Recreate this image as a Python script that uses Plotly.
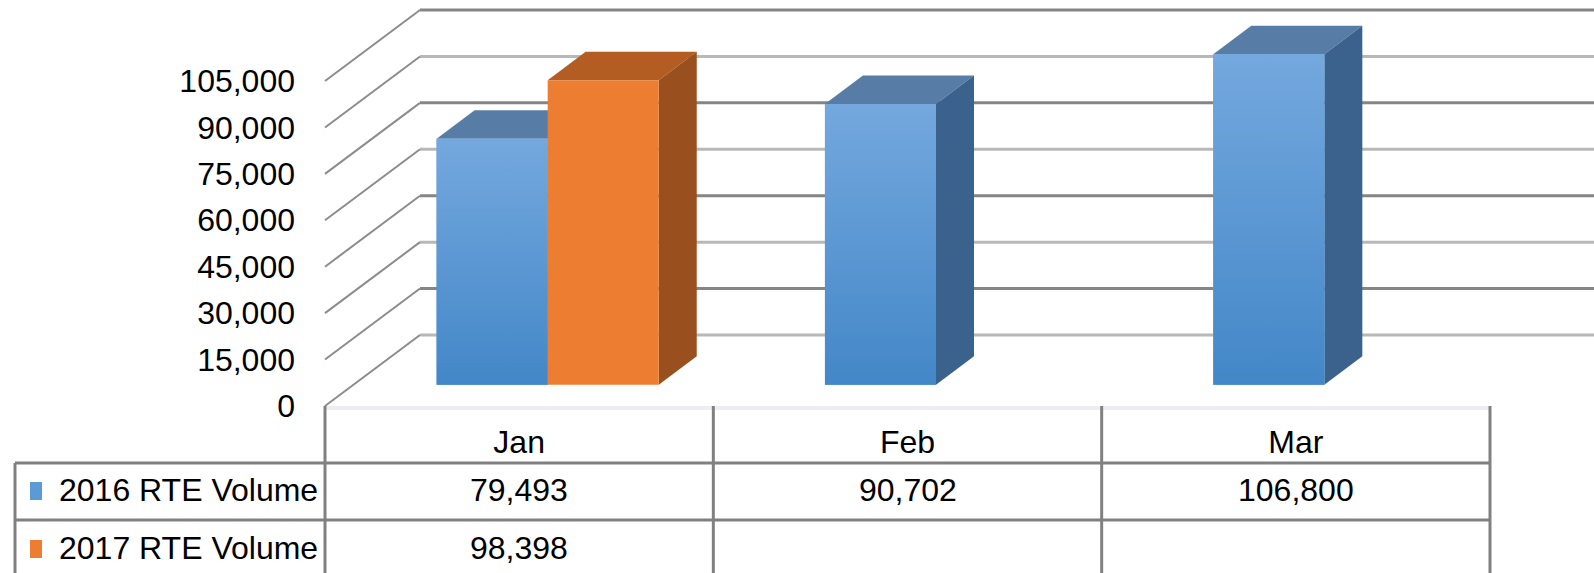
import plotly.graph_objects as go

# ---------------- data ----------------
categories = ["Jan", "Feb", "Mar"]
series_names = ["2016 RTE Volume", "2017 RTE Volume"]
values_2016 = [79493, 90702, 106800]
values_2017 = [98398, None, None]
tick_values = [0, 15000, 30000, 45000, 60000, 75000, 90000, 105000]

# ---------------- layout constants (pixels) ----------------
W, H = 1594, 573
FRONT_LEFT, FRONT_RIGHT = 325, 1490   # floor front edge, category -0.5 .. n-0.5
FLOOR_Y, TOP_Y = 406, 81              # front plane: value 0 and top tick
DEPTH_DX, DEPTH_DY = 95, 71           # oblique depth of the floor / side wall
BAR_D0, BAR_D1 = 0.3, 0.7             # bar depth slice
BARGAP = 0.428
ROW_LINES = [463, 520]
ROW_CENTERS = [490, 548]
LEG_LEFT = 15
FONT = "Liberation Sans, Arial, sans-serif"
FS = 32

n = len(categories)
px_per_cat = (FRONT_RIGHT - FRONT_LEFT) / n
px_per_val = (FLOOR_Y - TOP_Y) / tick_values[-1]
x_range = [-0.5 - FRONT_LEFT / px_per_cat, -0.5 + (W - FRONT_LEFT) / px_per_cat]
y_range = [-(H - FLOOR_Y) / px_per_val, FLOOR_Y / px_per_val]
dxd = DEPTH_DX / px_per_cat
dyd = DEPTH_DY / px_per_val


def px2x(px):
    return x_range[0] + px / px_per_cat


def px2y(py):
    return y_range[1] - py / px_per_val


def P(x, v, d):
    return (x + d * dxd, v + d * dyd)


def path(pts):
    return "M " + " L ".join(f"{x:.5f},{y:.3f}" for x, y in pts) + " Z"


shapes = []
# back wall gridlines and side wall diagonals
for k, tv in enumerate(tick_values):
    col = "#858585" if (len(tick_values) - 1 - k) % 2 == 0 else "#b8b8b8"
    bx0, by = P(-0.5, tv, 1)
    bx1 = x_range[1]
    shapes.append(dict(type="line", xref="x", yref="y", x0=bx0, y0=by, x1=bx1, y1=by,
                       line=dict(color=col, width=3), layer="below"))
    fx, fy = P(-0.5, tv, 0)
    shapes.append(dict(type="line", xref="x", yref="y", x0=fx, y0=fy, x1=bx0, y1=by,
                       line=dict(color="#8c8c8c", width=2), layer="below"))

# floor front strip
shapes.append(dict(type="rect", xref="x", yref="y", x0=-0.5, x1=n - 0.5,
                   y0=px2y(FLOOR_Y), y1=px2y(FLOOR_Y + 4), fillcolor="#ebedf2",
                   line=dict(width=0), layer="below"))

# 3D faces of bars (top + right side)
bw = (1 - BARGAP) / 2
base = BAR_D0 * dyd
ddx, ddy = (BAR_D1 - BAR_D0) * dxd, (BAR_D1 - BAR_D0) * dyd
face_cols = [("#577ca6", "#3a628d"), ("#b45d22", "#9a4f1e")]
front_grad = [["#4387c8", "#74a8de"], None]
bar_boxes = []
for i in range(n):
    c = i + BAR_D0 * dxd
    for s, vals in enumerate([values_2016, values_2017]):
        v = vals[i]
        if v is None:
            continue
        x0 = c - bw + s * bw
        x1 = x0 + bw
        top = base + v
        bar_boxes.append((s, x0, x1, top))
        topc, sidec = face_cols[s]
        shapes.append(dict(type="path", xref="x", yref="y", layer="below",
                           path=path([(x0, top), (x1, top), (x1 + ddx, top + ddy), (x0 + ddx, top + ddy)]),
                           fillcolor=topc, line=dict(width=0)))
        shapes.append(dict(type="path", xref="x", yref="y", layer="below",
                           path=path([(x1, base), (x1, top), (x1 + ddx, top + ddy), (x1 + ddx, base + ddy)]),
                           fillcolor=sidec, line=dict(width=0)))

# data table grid
grid = dict(color="#808080", width=3)
for b in range(n + 1):
    xb = b - 0.5
    shapes.append(dict(type="line", xref="x", yref="y", x0=xb, x1=xb,
                       y0=px2y(FLOOR_Y), y1=y_range[0], line=grid))
for ry in ROW_LINES:
    shapes.append(dict(type="line", xref="x", yref="y", x0=px2x(LEG_LEFT), x1=n - 0.5,
                       y0=px2y(ry), y1=px2y(ry), line=grid))
shapes.append(dict(type="line", xref="x", yref="y", x0=px2x(LEG_LEFT), x1=px2x(LEG_LEFT),
                   y0=px2y(ROW_LINES[0]), y1=y_range[0], line=grid))

# legend keys in the table
key_cols = ["#5b9bd5", "#ed7d31"]
for r, cy in enumerate(ROW_CENTERS):
    shapes.append(dict(type="rect", xref="x", yref="y", x0=px2x(30), x1=px2x(42),
                       y0=px2y(cy - 8), y1=px2y(cy + 10), fillcolor=key_cols[r], line=dict(width=0)))

annotations = []
for r, (name, vals) in enumerate(zip(series_names, [values_2016, values_2017])):
    cy = px2y(ROW_CENTERS[r])
    annotations.append(dict(x=px2x(57), y=cy, xref="x", yref="y", text=name, showarrow=False,
                            xanchor="left", yanchor="middle", font=dict(family=FONT, size=FS, color="#000")))
    for i, v in enumerate(vals):
        if v is None:
            continue
        annotations.append(dict(x=i, y=cy, xref="x", yref="y", text=f"{v:,}", showarrow=False,
                                xanchor="center", yanchor="middle",
                                font=dict(family=FONT, size=FS, color="#000")))

fig = go.Figure()
for s, (name, vals) in enumerate(zip(series_names, [values_2016, values_2017])):
    fig.add_bar(x=[i + BAR_D0 * dxd for i in range(n)], y=vals, base=base, name=name,
                marker=dict(color=key_cols[s], line=dict(width=0)))

# vertical shading of the blue front faces (overlay on the bars)
for s, x0, x1, top in bar_boxes:
    if front_grad[s] is None:
        continue
    fig.add_scatter(x=[x0, x1, x1, x0, x0], y=[base, base, top, top, base], mode="lines",
                    line=dict(width=0), fill="toself", hoverinfo="skip", showlegend=False,
                    fillgradient=dict(type="vertical",
                                      colorscale=[[0, front_grad[s][0]], [1, front_grad[s][1]]]))

fig.update_layout(
    width=W, height=H, margin=dict(l=0, r=0, t=0, b=0, pad=0),
    paper_bgcolor="white", plot_bgcolor="white",
    barmode="group", bargap=BARGAP, bargroupgap=0, showlegend=False,
    shapes=shapes, annotations=annotations,
    font=dict(family=FONT, size=FS, color="#000"),
    xaxis=dict(range=x_range, showgrid=False, zeroline=False, showline=False,
               tickvals=list(range(n)), ticktext=categories, ticks="",
               anchor="free", position=(H - FLOOR_Y) / H, ticklabelstandoff=14,
               tickfont=dict(family=FONT, size=FS, color="#000"), fixedrange=True),
    yaxis=dict(range=y_range, showgrid=False, zeroline=False, showline=False,
               tickvals=tick_values, tickformat=",d", ticks="",
               anchor="free", position=FRONT_LEFT / W, ticklabelstandoff=30,
               tickfont=dict(family=FONT, size=FS, color="#000"), fixedrange=True),
)

fig.write_html("out.html", config={"displayModeBar": False},
               post_script="document.body.style.margin='0';document.body.style.padding='0';")
